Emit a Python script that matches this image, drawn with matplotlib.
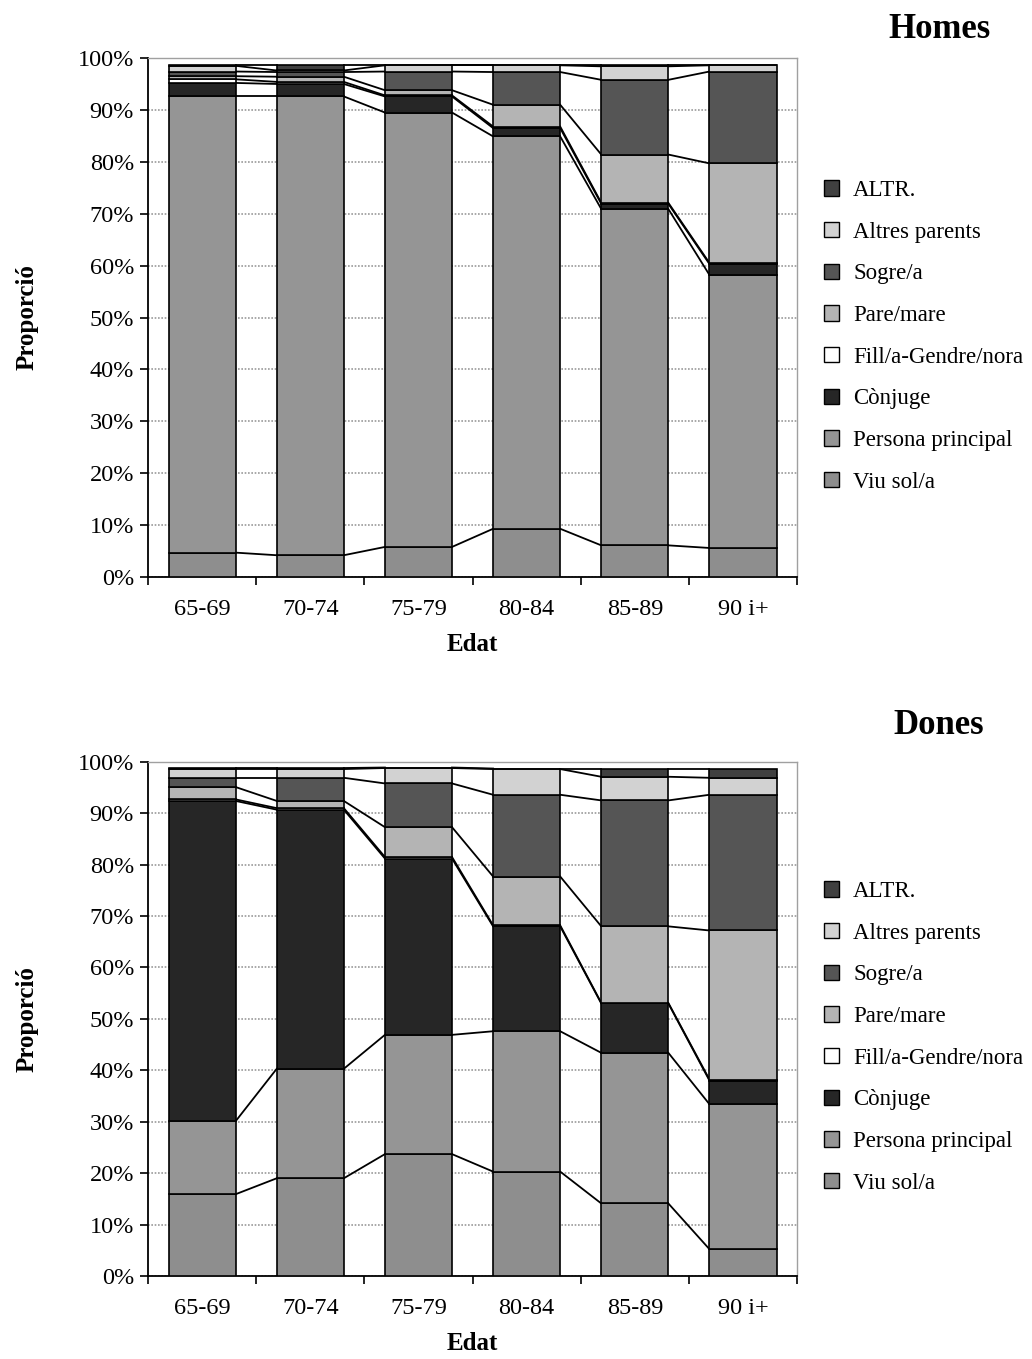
import numpy as np
import matplotlib
matplotlib.use("Agg")
import matplotlib.pyplot as plt
from matplotlib.patches import Patch

plt.rcParams['font.family'] = ['Liberation Serif', 'DejaVu Serif']

ages = ["65-69", "70-74", "75-79", "80-84", "85-89", "90 i+"]
series_names = ["Viu sol/a", "Persona principal", "Cònjuge", "Fill/a-Gendre/nora",
                "Pare/mare", "Sogre/a", "Altres parents", "ALTR."]

# Homes (percent), bottom to top
homes_viu = [4.7, 4.2, 5.8, 9.3, 6.1, 5.6]
homes_pp = [87.9, 88.4, 83.7, 75.6, 64.8, 52.6]
homes_conj = [2.6, 2.4, 3.1, 1.6, 1.0, 2.1]
homes_fill = [0.7, 0.4, 0.2, 0.3, 0.2, 0.2]
homes_pare = [0.6, 1.0, 1.0, 4.2, 9.3, 19.2]
homes_sogre = [0.9, 0.9, 3.6, 6.3, 14.4, 17.7]
homes_altres = [1.1, 0.3, 1.2, 1.3, 2.6, 1.2]
homes_altr = [0.2, 1.1, 0.1, 0.1, 0.3, 0.1]

# Dones (percent), bottom to top
dones_viu = [15.9, 19.0, 23.7, 20.3, 14.1, 5.2]
dones_pp = [14.2, 21.3, 23.2, 27.3, 29.3, 28.2]
dones_conj = [62.3, 50.4, 34.3, 20.4, 9.6, 4.6]
dones_fill = [0.3, 0.3, 0.3, 0.2, 0.1, 0.2]
dones_pare = [2.4, 1.4, 5.8, 9.5, 14.9, 29.0]
dones_sogre = [1.8, 4.5, 8.5, 15.9, 24.5, 26.4]
dones_altres = [1.7, 1.7, 3.0, 5.0, 4.6, 3.3]
dones_altr = [0.2, 0.2, 0.1, 0.1, 1.6, 1.8]

colors = ["#8e8e8e", "#959595", "#262626", "#ffffff",
          "#b4b4b4", "#555555", "#d2d2d2", "#404040"]

fig = plt.figure(figsize=(10.32, 13.59), dpi=100)

def draw(ax, data, title, title_y, legend_y):
    x = np.arange(len(ages))
    w = 0.62
    bottom = np.zeros(len(ages))
    tops = []
    for vals, c in zip(data, colors):
        v = np.array(vals, dtype=float)
        ax.bar(x, v, w, bottom=bottom, color=c, edgecolor="black", linewidth=1.2, zorder=3)
        bottom = bottom + v
        tops.append(bottom.copy())
    # series lines
    for t in tops:
        for i in range(len(ages) - 1):
            ax.plot([x[i] + w / 2, x[i + 1] - w / 2], [t[i], t[i + 1]],
                    color="black", lw=1.3, zorder=2)
    ax.set_xlim(-0.5, len(ages) - 0.5)
    ax.set_ylim(0, 100)
    ax.set_yticks(np.arange(0, 101, 10))
    ax.set_yticklabels([f"{v}%" for v in range(0, 101, 10)], fontsize=17.5)
    ax.set_xticks(x)
    ax.set_xticklabels(ages, fontsize=17.5)
    ax.set_xticks(np.arange(-0.5, len(ages), 1), minor=True)
    ax.tick_params(axis="x", which="major", length=0, pad=16)
    ax.tick_params(axis="x", which="minor", length=6, width=1.2, direction="out")
    ax.tick_params(axis="y", length=6, width=1.2, direction="out", pad=4)
    ax.grid(axis="y", color="#9a9a9a", lw=1.2, ls=(0, (1, 1)), zorder=0)
    ax.spines["left"].set_linewidth(1.3)
    ax.spines["bottom"].set_linewidth(1.3)
    for s in ("top", "right"):
        ax.spines[s].set_color("#a0a0a0")
        ax.spines[s].set_linewidth(1.0)
    ax.set_ylabel("Proporció", fontsize=18, fontweight="bold", labelpad=28)
    ax.set_xlabel("Edat", fontsize=18, fontweight="bold", labelpad=9)
    fig.text(0.91, title_y, title, fontsize=25, fontweight="bold", ha="center", va="center")
    handles = [Patch(facecolor=c, edgecolor="black", linewidth=1.0) for c in colors]
    fig.legend(handles[::-1], series_names[::-1], loc="upper left",
               bbox_to_anchor=(0.79, legend_y), frameon=False, fontsize=16.5,
               handlelength=0.65, handleheight=0.65, handletextpad=0.6,
               labelspacing=0.9, borderaxespad=0)

ax1 = fig.add_axes([0.1434, 0.5754, 0.629, 0.3819])
draw(ax1, [homes_viu, homes_pp, homes_conj, homes_fill, homes_pare,
           homes_sogre, homes_altres, homes_altr], "Homes", 1 - 30 / 1359, 1 - 171 / 1359)

ax2 = fig.add_axes([0.1434, 0.0611, 0.629, 0.3783])
draw(ax2, [dones_viu, dones_pp, dones_conj, dones_fill, dones_pare,
           dones_sogre, dones_altres, dones_altr], "Dones", 1 - 725 / 1359, 1 - 872 / 1359)

fig.savefig("out.png", dpi=100, facecolor="white")
